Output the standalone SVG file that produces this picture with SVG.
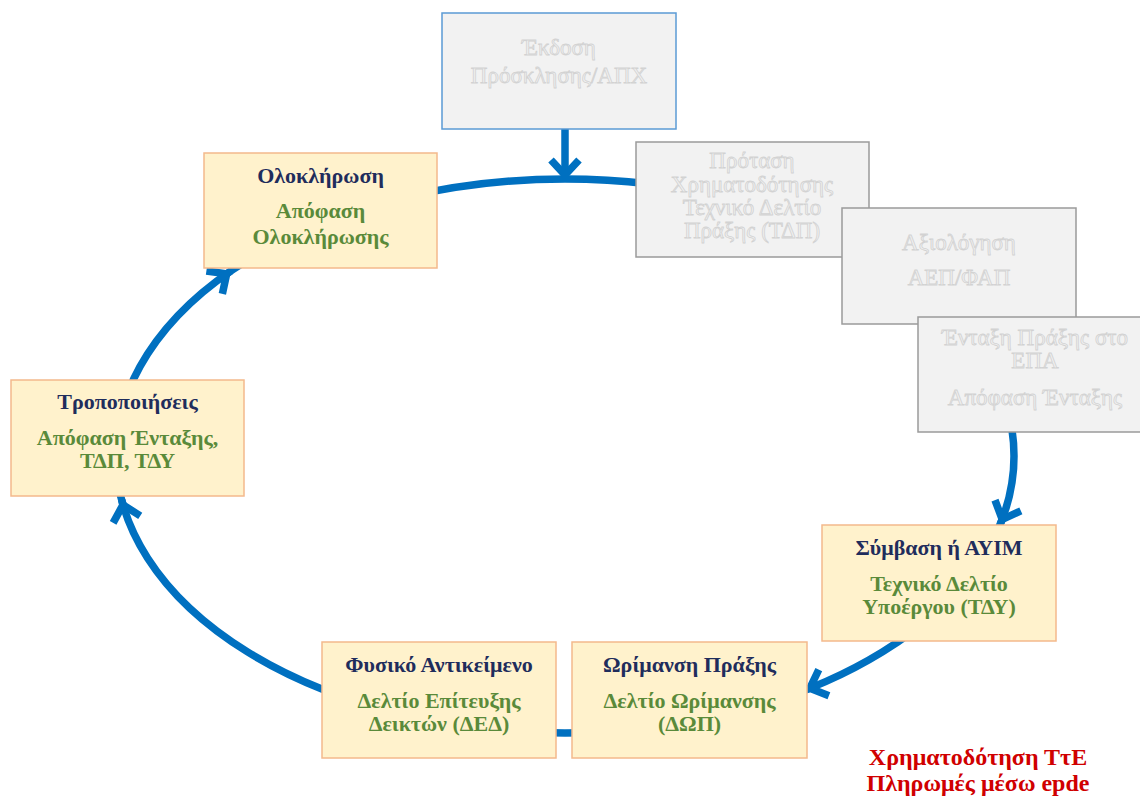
<svg xmlns="http://www.w3.org/2000/svg" width="1140" height="798" viewBox="0 0 1140 798">
<style>
.ob{fill:#fff2cc;stroke:#f4b98c;stroke-width:1.5}
.gb{fill:#f2f2f2;stroke:#9a9a9a;stroke-width:1.5}
.t{font-family:"Liberation Serif","Times New Roman",serif;font-weight:bold;font-size:22px;text-anchor:middle}
.h{fill:#1f2d5c}
.g{fill:#5a8a3a}
.gt{font-family:"Liberation Serif","Times New Roman",serif;font-size:23px;text-anchor:middle;fill:#f0f0f0;stroke:#d2d2d2;stroke-width:0.8}
.r{font-family:"Liberation Serif","Times New Roman",serif;font-weight:bold;font-size:24px;text-anchor:middle;fill:#d00000}
.c{fill:none;stroke:#0070c0;stroke-width:7.5}
</style>
<defs>
<marker id="chev" markerUnits="userSpaceOnUse" viewBox="-30 -20 40 40" refX="0" refY="0" markerWidth="40" markerHeight="40" orient="auto" overflow="visible">
<path d="M -20 -14 L -5 0 L -20 14" fill="none" stroke="#0070c0" stroke-width="7.5" stroke-linejoin="miter"/>
</marker>
</defs>
<rect width="1140" height="798" fill="#ffffff"/>
<g id="connectors">
<ellipse class="c" cx="565" cy="456" rx="449" ry="277"/>
<path class="c" d="M 565 129 L 565 180" marker-end="url(#chev)"/>
<path class="c" d="M 1004.1 514.8 L 1000.3 524" marker-end="url(#chev)"/>
<path class="c" d="M 814.5 686.4 L 805.2 690" marker-end="url(#chev)"/>
<path class="c" d="M 124.2 509.7 L 121.7 500" marker-end="url(#chev)"/>
<path class="c" d="M 222.6 276.7 L 230.8 271" marker-end="url(#chev)"/>
</g>
<g id="n-ekdosi">
<rect x="442" y="13" width="234" height="116" fill="#f2f2f2" stroke="#5b9bd5" stroke-width="1.5"/>
<text class="gt" x="559" y="55">Έκδοση</text>
<text class="gt" x="559" y="83">Πρόσκλησης/ΑΠΧ</text>
</g>
<g id="n-protasi">
<rect class="gb" x="636" y="142" width="233" height="115"/>
<text class="gt" x="752" y="168">Πρόταση</text>
<text class="gt" x="752" y="192">Χρηματοδότησης</text>
<text class="gt" x="752" y="215">Τεχνικό Δελτίο</text>
<text class="gt" x="752" y="238">Πράξης (ΤΔΠ)</text>
</g>
<g id="n-axiologisi">
<rect class="gb" x="842" y="208" width="234" height="116"/>
<text class="gt" x="959" y="250">Αξιολόγηση</text>
<text class="gt" x="959" y="285">ΑΕΠ/ΦΑΠ</text>
</g>
<g id="n-entaxi">
<rect class="gb" x="918" y="317" width="234" height="115"/>
<text class="gt" x="1035" y="345">Ένταξη Πράξης στο</text>
<text class="gt" x="1035" y="368">ΕΠΑ</text>
<text class="gt" x="1035" y="405">Απόφαση Ένταξης</text>
</g>
<g id="n-symvasi">
<rect class="ob" x="822" y="525" width="234" height="116"/>
<text class="t h" x="939" y="555">Σύμβαση ή ΑΥΙΜ</text>
<text class="t g" x="939" y="591">Τεχνικό Δελτίο</text>
<text class="t g" x="939" y="614">Υποέργου (ΤΔΥ)</text>
</g>
<g id="n-orimansi">
<rect class="ob" x="572" y="642" width="235" height="116"/>
<text class="t h" x="689.5" y="672">Ωρίμανση Πράξης</text>
<text class="t g" x="689.5" y="708">Δελτίο Ωρίμανσης</text>
<text class="t g" x="689.5" y="731">(ΔΩΠ)</text>
</g>
<g id="n-fysiko">
<rect class="ob" x="322" y="642" width="234" height="116"/>
<text class="t h" x="439" y="672">Φυσικό Αντικείμενο</text>
<text class="t g" x="439" y="708">Δελτίο Επίτευξης</text>
<text class="t g" x="439" y="731">Δεικτών (ΔΕΔ)</text>
</g>
<g id="n-tropopoiiseis">
<rect class="ob" x="11" y="380" width="233" height="116"/>
<text class="t h" x="127.5" y="409">Τροποποιήσεις</text>
<text class="t g" x="127.5" y="445">Απόφαση Ένταξης,</text>
<text class="t g" x="127.5" y="468">ΤΔΠ, ΤΔΥ</text>
</g>
<g id="n-oloklirosi">
<rect class="ob" x="204" y="153" width="233" height="115"/>
<text class="t h" x="320.5" y="183">Ολοκλήρωση</text>
<text class="t g" x="320.5" y="218">Απόφαση</text>
<text class="t g" x="320.5" y="244">Ολοκλήρωσης</text>
</g>
<g id="note">
<text class="r" x="978" y="765">Χρηματοδότηση ΤτΕ</text>
<text class="r" x="978" y="791">Πληρωμές μέσω epde</text>
</g>
</svg>
